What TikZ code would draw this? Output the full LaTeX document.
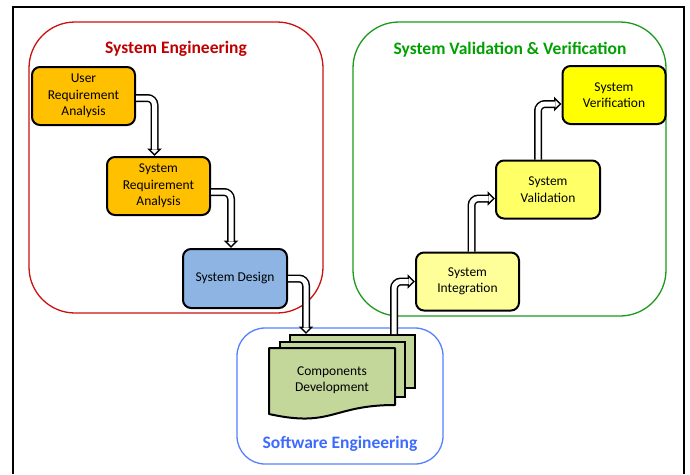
\documentclass[tikz,border=0pt]{standalone}
\usepackage{fontspec}
\setmainfont{Carlito}
\usetikzlibrary{arrows.meta,calc}
\definecolor{boxorange}{HTML}{FFC000}
\definecolor{boxblue}{HTML}{8DB4E2}
\definecolor{ylight}{HTML}{FFFF99}
\definecolor{ymid}{HTML}{FFFF66}
\definecolor{yfull}{HTML}{FFFF00}
\definecolor{docgreen}{HTML}{C4D79B}
\definecolor{sered}{HTML}{CC1010}
\definecolor{setitle}{HTML}{C00000}
\definecolor{svgreen}{HTML}{1A9A1A}
\definecolor{svtitle}{HTML}{00A000}
\definecolor{swblue}{HTML}{5580FF}
\definecolor{swtitle}{HTML}{3D6BFF}
\tikzset{
  proc/.style={draw=black, line width=2pt, rounded corners=8pt, align=center,
    font=\fontsize{13.5}{16.5}\selectfont, inner sep=0pt,
    minimum width=103pt, minimum height=58pt},
  container/.style={line width=1.3pt, inner sep=0pt},
  ctitle/.style={font=\fontsize{17.5}{20}\selectfont\bfseries},
  docpage/.style={draw=black, line width=2pt, fill=docgreen, inner sep=0pt},
  harrowout/.style={draw=black, line width=8pt, rounded corners=7pt,
    -{Triangle[length=7.5pt,width=14.5pt,line width=1.4pt,fill=white]}},
  harrowin/.style={draw=white, line width=5pt, rounded corners=7pt, shorten >=6.5pt},
}
\newcommand\harrow[1]{\draw[harrowout] #1; \draw[harrowin] #1;}
\begin{document}
\begin{tikzpicture}[x=1pt,y=-1pt]
\useasboundingbox (0,0) rectangle (690,474);
% outer frame
\draw[line width=2.5pt] (13,474) -- (13,7) -- (684,7) -- (684,474);
% containers
\node[container, draw=sered, rounded corners=46pt, minimum width=294pt, minimum height=291pt] (se) at (176,167.5) {};
\node[container, draw=svgreen, rounded corners=46pt, minimum width=313pt, minimum height=294pt] (svv) at (509.5,169) {};
\node[container, draw=swblue, rounded corners=28pt, minimum width=206pt, minimum height=136pt] (swe) at (340,396) {};
\node[ctitle, text=setitle] (set) at (176,49) {System Engineering};
\node[ctitle, text=svtitle] (svt) at (510,50) {System Validation \& Verification};
\node[ctitle, text=swtitle] (swt) at (340,444) {Software Engineering};
% process boxes
\node[proc, fill=boxorange] (ura) at (83.5,96) {User\\Requirement\\Analysis};
\node[proc, fill=boxorange] (sra) at (158.5,186) {System\\Requirement\\Analysis};
\node[proc, fill=boxblue, minimum width=104pt, minimum height=59pt] (sd) at (235,278.5) {System Design};
\node[proc, fill=ylight] (si) at (467.5,281.5) {System\\Integration};
\node[proc, fill=ymid, minimum width=104pt] (sv) at (548,189.5) {System\\Validation};
\node[proc, fill=yfull] (sver) at (614,95) {System\\Verification};
% components (multi-document)
\node[docpage, minimum width=125pt, minimum height=53pt] (d3) at (352.5,361.5) {};
\node[docpage, minimum width=125pt, minimum height=55pt] (d2) at (342.5,369.5) {};
\draw[docpage, line join=round] (269,348) -- (395,348) -- (395,405)
  .. controls (332,405) and (332,428) .. (269,414) -- cycle;
\node[align=center, font=\fontsize{13.5}{16.5}\selectfont] (cd) at (332,380) {Components\\Development};
% arrows
\harrow{([yshift=-2pt]ura.east) -| ([xshift=-4pt]sra.north)}
\harrow{([yshift=-6pt]sra.east) -| ([xshift=-4pt]sd.north)}
\harrow{(sd.east) -| ([xshift=17pt]d3.north west)}
\harrow{([xshift=-22pt]d3.north east) |- (si.west)}
\harrow{([xshift=4pt]si.north) |- ([yshift=-9pt]sv.west)}
\harrow{([xshift=-10pt]sv.north) |- ([yshift=-9pt]sver.west)}
\end{tikzpicture}
\end{document}
